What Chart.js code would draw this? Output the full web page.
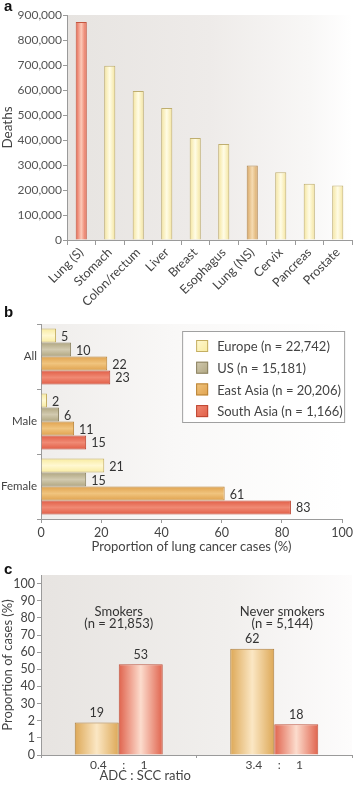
<!DOCTYPE html>
<html>
<head>
<meta charset="utf-8">
<script src="https://cdn.jsdelivr.net/npm/chart.js@4.4.0/dist/chart.umd.min.js"></script>
<style>
  body { margin: 0; background: #fff; width: 355px; height: 785px; position: relative; overflow: hidden; }
  canvas { position: absolute; left: 0; }
  .tag { position: absolute; left: 4px; font: bold 15px "Liberation Sans", Arial, sans-serif; color: #111; line-height: 15px; }
</style>
</head>
<body>
<canvas id="chartA" width="355" height="305" style="top:0"></canvas>
<canvas id="chartB" width="355" height="250" style="top:305px"></canvas>
<canvas id="chartC" width="355" height="230" style="top:555px"></canvas>
<div class="tag" style="top:-2px">a</div>
<div class="tag" style="top:304px">b</div>
<div class="tag" style="top:561px">c</div>
<script>
// ---- panel a: deaths by cancer site
const aSites = ['Lung (S)', 'Stomach', 'Colon/rectum', 'Liver', 'Breast', 'Esophagus', 'Lung (NS)', 'Cervix', 'Pancreas', 'Prostate'];
const aDeaths = [872000, 697000, 596000, 528000, 408000, 384000, 298000, 271000, 225000, 218000];
const aKind = ['red', 'yellow', 'yellow', 'yellow', 'yellow', 'yellow', 'tan', 'yellow', 'yellow', 'yellow'];

// ---- panel b: proportion of lung cancer cases in never smokers
const bGroups = ['All', 'Male', 'Female'];
const bRegions = ['Europe (n = 22,742)', 'US (n = 15,181)', 'East Asia (n = 20,206)', 'South Asia (n = 1,166)'];
const bEurope = [5, 2, 21];
const bUS = [10, 6, 15];
const bEastAsia = [22, 11, 61];
const bSouthAsia = [23, 15, 83];

// ---- panel c: ADC vs SCC
const cGroups = ['Smokers', 'Never smokers'];
const cGroupN = ['(n = 21,853)', '(n = 5,144)'];
const cRatios = ['0.4     :     1', '3.4     :     1'];
const cADC = [19, 62];
const cSCC = [53, 18];
const cTickLabels = ['0', '1', '2', '30', '40', '50', '60', '70', '80', '90', '100'];

const FONT = "Lato, sans-serif";
Chart.defaults.font.family = FONT;
Chart.defaults.color = '#444';
const AXIS = '#9a9a9a';

const PAL = {
  red:    { edge: '#e4654f', mid: '#fcc9b8', border: '#c4563f' },
  yellow: { edge: '#f4e49c', mid: '#fffce6', border: '#bfae70' },
  tan:    { edge: '#d8a765', mid: '#f5dbb2', border: '#b08650' },
  europe: { edge: '#f8eb9f', mid: '#fff8d2', border: '#c4ae62' },
  us:     { edge: '#b0a680', mid: '#d2cab0', border: '#8a8060' },
  east:   { edge: '#e0a24e', mid: '#f0c47e', border: '#b88236' },
  south:  { edge: '#e15d46', mid: '#f08a74', border: '#bd4430' },
  adc:    { edge: '#dda857', mid: '#fbe7c4', border: '#ae8040' },
  scc:    { edge: '#e0634d', mid: '#fcdccd', border: '#c05640' }
};

// gradient across the bar thickness, light streak in the middle
function shade(c, pal) {
  const el = c.element;
  const ctx = c.chart.ctx;
  if (!el || !isFinite(el.x) || !isFinite(el.y)) return pal.edge;
  let g;
  if (el.horizontal) {
    if (!el.height) return pal.edge;
    g = ctx.createLinearGradient(0, el.y - el.height / 2, 0, el.y + el.height / 2);
  } else {
    if (!el.width) return pal.edge;
    g = ctx.createLinearGradient(el.x - el.width / 2, 0, el.x + el.width / 2, 0);
  }
  g.addColorStop(0, pal.edge);
  g.addColorStop(0.5, pal.mid);
  g.addColorStop(1, pal.edge);
  return g;
}

const plotBg = {
  id: 'plotBg',
  beforeDraw(chart, args, opts) {
    const { ctx, chartArea: a } = chart;
    const g = ctx.createLinearGradient(a.left, 0, a.right, 0);
    opts.stops.forEach(s => g.addColorStop(s[0], s[1]));
    ctx.save();
    ctx.fillStyle = g;
    ctx.fillRect(a.left, a.top, a.right - a.left, a.bottom - a.top);
    ctx.restore();
  }
};

const valueLabels = {
  id: 'valueLabels',
  afterDatasetsDraw(chart) {
    const ctx = chart.ctx;
    ctx.save();
    ctx.font = '12.5px ' + FONT;
    ctx.fillStyle = '#333';
    chart.data.datasets.forEach((ds, i) => {
      chart.getDatasetMeta(i).data.forEach((el, j) => {
        const txt = String(ds.data[j]);
        if (chart.options.indexAxis === 'y') {
          ctx.textAlign = 'left'; ctx.textBaseline = 'middle';
          ctx.fillText(txt, el.x + 5, el.y + 1);
        } else {
          ctx.textAlign = 'center'; ctx.textBaseline = 'bottom';
          ctx.fillText(txt, el.x, el.y - 3);
        }
      });
    });
    ctx.restore();
  }
};

function axisGrid(len) {
  return { display: true, drawOnChartArea: false, drawTicks: true, tickLength: len, color: AXIS };
}

// ---------------- a
const chartA = new Chart(document.getElementById('chartA'), {
  type: 'bar',
  data: {
    labels: aSites,
    datasets: [{
      data: aDeaths,
      backgroundColor: c => shade(c, PAL[aKind[c.dataIndex]]),
      borderColor: c => PAL[aKind[c.dataIndex]].border,
      borderWidth: 1,
      categoryPercentage: 1,
      barPercentage: 0.39
    }]
  },
  options: {
    responsive: false,
    animation: false,
    layout: { padding: { top: 15, right: 3, left: 0, bottom: 0 } },
    plugins: {
      legend: { display: false },
      tooltip: { enabled: false },
      plotBg: { stops: [[0, '#e7e4e1'], [0.5, '#eeebe9'], [0.85, '#f8f7f6'], [1, '#ffffff']] }
    },
    scales: {
      x: {
        grid: axisGrid(5),
        border: { color: AXIS },
        ticks: { minRotation: 45, maxRotation: 45, autoSkip: false, font: { size: 12.5 }, color: '#444', padding: 0 },
        afterFit: s => { s.height = 65; }
      },
      y: {
        min: 0, max: 900000,
        grid: axisGrid(4),
        border: { color: AXIS },
        ticks: { stepSize: 100000, font: { size: 12 }, color: '#555', padding: 1, callback: v => v.toLocaleString('en-US') },
        title: { display: true, text: 'Deaths', font: { size: 13.5 }, color: '#444', padding: 0 },
        afterFit: s => { s.width = 67; }
      }
    }
  },
  plugins: [plotBg]
});
chartA.update();

// ---------------- b
const legendBox = {
  id: 'legendBox',
  afterDraw(chart) {
    const { ctx, chartArea: a } = chart;
    const x0 = a.right - 160, y0 = a.top + 7, w = 163, h = 92;
    ctx.save();
    ctx.fillStyle = 'rgba(255,255,255,0.85)';
    ctx.fillRect(x0, y0, w, h);
    ctx.strokeStyle = '#a0a0a0';
    ctx.lineWidth = 1;
    ctx.strokeRect(x0 + 0.5, y0 + 0.5, w - 1, h - 1);
    ctx.font = '13px ' + FONT;
    ctx.textBaseline = 'middle';
    ctx.textAlign = 'left';
    chart.data.datasets.forEach((ds, i) => {
      const cy = y0 + 15 + i * 21.7;
      const pal = ds.pal;
      const g = ctx.createLinearGradient(x0 + 14, cy - 6, x0 + 26, cy + 6);
      g.addColorStop(0, pal.mid); g.addColorStop(1, pal.edge);
      ctx.fillStyle = g;
      ctx.fillRect(x0 + 14, cy - 6, 12, 12);
      ctx.strokeStyle = pal.border;
      ctx.strokeRect(x0 + 14.5, cy - 5.5, 11, 11);
      ctx.fillStyle = '#444';
      ctx.fillText(ds.label, x0 + 35, cy + 1);
    });
    ctx.restore();
  }
};

function bSet(label, data, pal) {
  return {
    label, data, pal,
    backgroundColor: c => shade(c, pal),
    borderColor: pal.border,
    borderWidth: 1,
    categoryPercentage: 0.86,
    barPercentage: 1
  };
}

const chartB = new Chart(document.getElementById('chartB'), {
  type: 'bar',
  data: {
    labels: bGroups,
    datasets: [
      bSet(bRegions[0], bEurope, PAL.europe),
      bSet(bRegions[1], bUS, PAL.us),
      bSet(bRegions[2], bEastAsia, PAL.east),
      bSet(bRegions[3], bSouthAsia, PAL.south)
    ]
  },
  options: {
    indexAxis: 'y',
    responsive: false,
    animation: false,
    layout: { padding: { top: 19, right: 11, left: 0, bottom: 0 } },
    plugins: {
      legend: { display: false },
      tooltip: { enabled: false },
      plotBg: { stops: [[0, '#efedeb'], [0.45, '#f9f8f7'], [1, '#ffffff']] }
    },
    scales: {
      x: {
        min: 0, max: 100,
        grid: axisGrid(4),
        border: { color: AXIS },
        ticks: { stepSize: 20, font: { size: 12.5 }, color: '#444', padding: 2 },
        title: { display: true, text: 'Proportion of lung cancer cases (%)', font: { size: 13 }, color: '#444', padding: 0 },
        afterFit: s => { s.height = 36; }
      },
      y: {
        grid: axisGrid(4),
        border: { color: AXIS },
        ticks: { font: { size: 11.5 }, color: '#444', padding: 0 },
        afterFit: s => { s.width = 41; }
      }
    }
  },
  plugins: [plotBg, valueLabels, legendBox]
});
chartB.update();

// ---------------- c
const cNotes = {
  id: 'cNotes',
  afterDraw(chart) {
    const { ctx, chartArea: a, scales } = chart;
    ctx.save();
    ctx.fillStyle = '#333';
    ctx.font = '13px ' + FONT;
    ctx.textAlign = 'center';
    ctx.textBaseline = 'middle';
    cGroups.forEach((g, i) => {
      const x = scales.x.getPixelForValue(i) + i * 8;
      ctx.fillText(g, x, a.top + 37);
      ctx.fillText(cGroupN[i], x, a.top + 49);
    });
    ctx.fillStyle = '#444';
    ctx.fillText('ADC : SCC ratio', a.left + (a.right - a.left) * 0.335, chart.height - 9);
    ctx.restore();
  }
};

function cSet(label, data, pal) {
  return {
    label, data,
    backgroundColor: c => shade(c, pal),
    borderColor: pal.border,
    borderWidth: 1,
    categoryPercentage: 0.566,
    barPercentage: 1
  };
}

const chartC = new Chart(document.getElementById('chartC'), {
  type: 'bar',
  data: {
    labels: cGroups,
    datasets: [cSet('ADC', cADC, PAL.adc), cSet('SCC', cSCC, PAL.scc)]
  },
  options: {
    responsive: false,
    animation: false,
    layout: { padding: { top: 20, right: 3, left: 0, bottom: 0 } },
    plugins: {
      legend: { display: false },
      tooltip: { enabled: false },
      plotBg: { stops: [[0, '#e7e4e1'], [0.6, '#f1efed'], [1, '#fdfcfc']] }
    },
    scales: {
      x: {
        grid: axisGrid(3),
        border: { color: AXIS },
        ticks: { font: { size: 12 }, color: '#444', padding: 0, callback: (v, i) => cRatios[i] },
        afterFit: s => { s.height = 30; }
      },
      y: {
        min: 0, max: 105,
        grid: axisGrid(4),
        border: { color: AXIS },
        afterBuildTicks: s => { s.ticks = cTickLabels.map((t, i) => ({ value: i * 10 })); },
        ticks: { font: { size: 12.5 }, color: '#444', padding: 2, callback: (v, i) => cTickLabels[i] },
        title: { display: true, text: 'Proportion of cases (%)', font: { size: 13 }, color: '#444', padding: 0 },
        afterFit: s => { s.width = 41; }
      }
    }
  },
  plugins: [plotBg, valueLabels, cNotes]
});
chartC.update();
</script>
</body>
</html>
